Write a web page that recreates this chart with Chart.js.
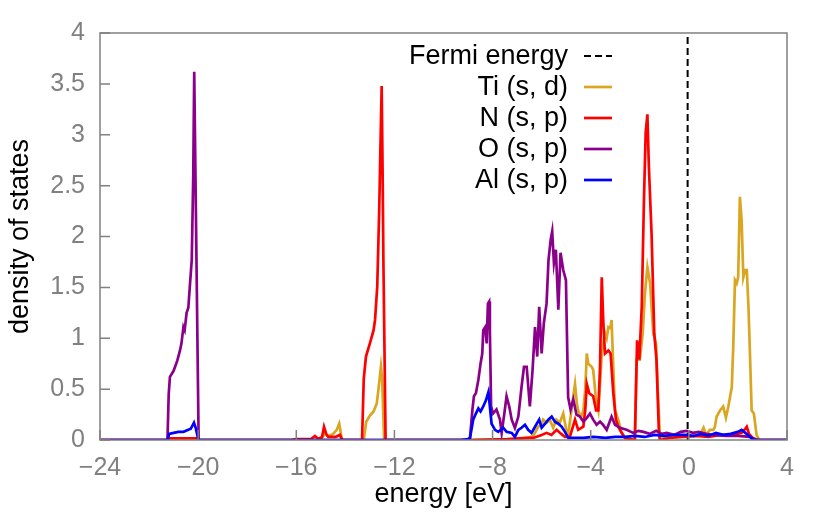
<!DOCTYPE html>
<html>
<head>
<meta charset="utf-8">
<script src="https://cdn.jsdelivr.net/npm/chart.js@4.4.1/dist/chart.umd.min.js"></script>
<style>
  html, body { margin: 0; padding: 0; background: #fff; }
  #wrap { width: 830px; height: 515px; }
</style>
</head>
<body>
<div id="wrap"><canvas id="dos" width="830" height="515"></canvas></div>
<script>
// energy grid and density of states
var fermiEnergy = -0.05;

var tiE = [-24, -15.0, -14.85, -14.7, -14.5, -14.35, -14.25, -14.15, -14.1, -13.25, -13.15, -13.0, -12.85, -12.72, -12.65, -12.55, -12.5, -12.42,
  -9.0, -7.0, -6.6, -6.34, -6.14, -6.0, -5.94, -5.79, -5.67, -5.53, -5.40, -5.26, -5.12, -5.0, -4.91, -4.78, -4.70, -4.64, -4.56, -4.51, -4.40, -4.30,
  -4.22, -4.16, -4.10, -3.96, -3.90, -3.78, -3.69, -3.62, -3.55, -3.42, -3.35, -3.28, -3.20, -3.15, -3.08, -3.01, -2.88, -2.74, -2.60, -2.20, -2.13,
  -2.0, -1.88, -1.79, -1.69, -1.58, -1.45, -1.34, -1.25, -1.18, -0.8, 0.0, 0.45, 0.6, 0.7, 0.86, 1.0, 1.06, 1.13, 1.27, 1.40, 1.51, 1.61, 1.75, 1.81,
  1.88, 1.95, 2.01, 2.08, 2.15, 2.22, 2.29, 2.36, 2.43, 2.49, 2.56, 2.65, 2.76, 2.87, 4];
var tiDos = [0, 0, 0.06, 0.04, 0.06, 0.1, 0.16, 0.02, 0, 0, 0.18, 0.24, 0.28, 0.36, 0.5, 0.72, 0.6, 0,
  0, 0.01, 0.02, 0.04, 0.13, 0.15, 0.2, 0.17, 0.2, 0.12, 0.2, 0.17, 0.26, 0.1, 0.07, 0.3, 0.45, 0.55, 0.35, 0.29, 0.22, 0.29,
  0.5, 0.85, 0.75, 0.72, 0.69, 0.39, 0.29, 0.55, 0.85, 1.05, 1.0, 1.11, 1.1, 1.18, 0.72, 0.29, 0.2, 0.07, 0.02, 0, 0.79,
  0.79, 1.05, 1.44, 1.70, 1.54, 1.05, 0.95, 0.39, 0.03, 0.03, 0.03, 0.05, 0.12, 0.05, 0.1, 0.1, 0.13, 0.23, 0.29, 0.33, 0.22, 0.33, 0.52, 0.92,
  1.57, 1.54, 1.6, 2.39, 2.16, 1.6, 1.67, 1.67, 1.31, 0.85, 0.29, 0.26, 0.05, 0, 0];

var nE = [-24, -21.25, -21.2, -20.0, -19.95, -16.2, -16.0, -15.4, -15.24, -15.1, -14.95, -14.87, -14.78, -14.7, -14.4, -14.22, -14.13,
  -13.32, -13.25, -13.16, -13.0, -12.85, -12.79, -12.70, -12.62, -12.56, -12.52, -12.48, -12.45, -12.36,
  -9.0, -7.4, -6.6, -6.34, -6.0, -5.80, -5.6, -5.39, -5.2, -5.05, -4.85, -4.64, -4.51, -4.30, -4.22, -4.16, -4.06, -3.90, -3.78, -3.69,
  -3.62, -3.55, -3.49, -3.42, -3.28, -3.19, -3.08, -2.97, -2.88, -2.74, -2.60, -2.20, -2.11, -2.02, -1.92, -1.83, -1.76, -1.69, -1.63,
  -1.52, -1.41, -1.32, -1.22, -1.18, -0.8, -0.3, 0.3, 0.8, 1.3, 1.8, 2.15, 2.3, 2.36, 2.45, 2.6, 2.7, 4];
var nDos = [0, 0, 0.015, 0.015, 0, 0, 0.01, 0.01, 0.04, 0.01, 0.03, 0.13, 0.06, 0.03, 0.03, 0.05, 0,
  0, 0.6, 0.82, 0.95, 1.08, 1.18, 1.51, 2.26, 3.0, 3.48, 2.6, 1.77, 0,
  0, 0.01, 0.02, 0.02, 0.05, 0.07, 0.05, 0.1, 0.06, 0.03, 0.03, 0.2, 0.1, 0.13, 0.3, 0.55, 0.46, 0.43, 0.29, 0.29,
  0.72, 1.60, 1.18, 0.85, 0.88, 0.85, 0.46, 0.2, 0.13, 0.07, 0.02, 0, 0.98, 0.79, 1.31, 2.36, 3.02, 3.2, 2.69,
  2.03, 1.05, 0.79, 0.07, 0, 0.02, 0.03, 0.04, 0.03, 0.05, 0.05, 0.07, 0.11, 0.13, 0.06, 0.02, 0, 0];

var oE = [-24, -21.25, -21.2, -21.15, -21.0, -20.94, -20.85, -20.74, -20.68, -20.6, -20.55, -20.47, -20.4, -20.33, -20.26, -20.2, -20.16,
  -19.98, -9.0, -8.92, -8.82, -8.76, -8.68, -8.58, -8.49, -8.42, -8.38, -8.30, -8.24, -8.19, -8.14, -8.11, -8.06, -7.98,
  -7.84, -7.70, -7.63, -7.52, -7.43, -7.32, -7.22, -7.09, -6.95, -6.82, -6.72, -6.61, -6.48, -6.37, -6.27, -6.18, -6.10, -6.0, -5.91,
  -5.80, -5.72, -5.63, -5.57, -5.50, -5.42, -5.32, -5.23, -5.12, -5.01, -4.92, -4.82, -4.71, -4.58, -4.44, -4.30, -4.15, -4.03, -3.90,
  -3.76, -3.62, -3.50, -3.35, -3.15, -3.01, -2.81, -2.54, -2.27, -2.05, -1.85, -1.6, -1.33, -1.1, -0.9, -0.6, -0.33, -0.1, 0.17, 0.4,
  0.7, 1.0, 1.5, 2.0, 2.5, 2.8, 4];
var oDos = [0, 0, 0.45, 0.62, 0.68, 0.72, 0.78, 0.88, 0.95, 1.11, 1.08, 1.25, 1.3, 1.54, 1.77, 2.6, 3.62,
  0, 0, 0.02, 0.3, 0.43, 0.46, 0.59, 0.75, 0.85, 1.08, 1.11, 0.95, 1.34, 1.36, 1.08, 0.33, 0.26,
  0.30, 0.2, 0.07, 0.26, 0.43, 0.33, 0.2, 0.12, 0.23, 0.52, 0.72, 0.72, 0.33, 0.69, 1.11, 0.82, 1.31, 0.85, 1.15,
  1.34, 1.77, 1.97, 2.05, 1.74, 1.87, 1.28, 1.84, 1.67, 1.57, 0.42, 0.3, 0.4, 0.25, 0.23, 0.18, 0.22, 0.26, 0.2,
  0.15, 0.18, 0.15, 0.1, 0.23, 0.15, 0.12, 0.1, 0.07, 0.09, 0.08, 0.06, 0.09, 0.06, 0.07, 0.05, 0.08, 0.09, 0.07, 0.08,
  0.06, 0.05, 0.04, 0.04, 0.03, 0, 0];

var alE = [-24, -21.25, -21.18, -21.0, -20.8, -20.6, -20.4, -20.3, -20.17, -20.1, -19.99, -9.3, -9.0, -8.92, -8.79, -8.68, -8.58, -8.49,
  -8.38, -8.27, -8.17, -8.11, -8.04, -7.90, -7.77, -7.56, -7.43, -7.22, -7.09, -6.95, -6.82, -6.68, -6.55, -6.41, -6.27, -6.10, -6.0,
  -5.86, -5.73, -5.59, -5.46, -5.32, -5.18, -5.05, -4.91, -4.7, -4.3, -3.9, -3.4, -3.0, -2.6, -2.2, -1.8, -1.4, -1.0, -0.6, -0.2, 0.2,
  0.5, 0.8, 1.1, 1.4, 1.7, 2.0, 2.15, 2.3, 2.5, 2.62, 4];
var alDos = [0, 0, 0.06, 0.07, 0.08, 0.08, 0.1, 0.11, 0.17, 0.12, 0, 0, 0.01, 0.02, 0.2, 0.26, 0.31, 0.28,
  0.33, 0.39, 0.47, 0.33, 0.16, 0.1, 0.08, 0.12, 0.08, 0.07, 0.03, 0.1, 0.12, 0.15, 0.1, 0.07, 0.13, 0.2, 0.12,
  0.16, 0.2, 0.23, 0.18, 0.16, 0.13, 0.08, 0.02, 0.02, 0.02, 0.03, 0.02, 0.03, 0.03, 0.04, 0.03, 0.05, 0.04, 0.05, 0.05, 0.04,
  0.06, 0.04, 0.07, 0.05, 0.06, 0.08, 0.1, 0.07, 0.03, 0, 0];

var labels = ["Fermi energy", "Ti (s, d)", "N (s, p)", "O (s, p)", "Al (s, p)"];
var colors = ["#000000", "#daa520", "#ff0000", "#8b008b", "#0000ff"];

var FONT = "'Liberation Sans', Arial, sans-serif";
var GREY = "#808080";

function pts(xs, ys) {
  var out = [];
  for (var i = 0; i < xs.length; i++) out.push({x: xs[i], y: ys[i]});
  return out;
}

function line(i, data, order) {
  return {
    label: labels[i],
    data: data,
    borderColor: colors[i],
    borderWidth: 2.7,
    pointRadius: 0,
    tension: 0,
    fill: false,
    order: order
  };
}

var fermiSet = line(0, [{x: fermiEnergy, y: 0}, {x: fermiEnergy, y: 4}], 4);
fermiSet.borderDash = [7, 4];
fermiSet.borderWidth = 2;

// gnuplot look: box, inward ticks, key with sample on the right
var framePlugin = {
  id: "frame",
  afterDatasetsDraw: function(chart) {
    var ctx = chart.ctx, a = chart.chartArea;
    var xs = chart.scales.x, ys = chart.scales.y;
    ctx.save();
    ctx.strokeStyle = GREY;
    ctx.lineWidth = 1.5;
    ctx.beginPath();
    xs.ticks.forEach(function(t) {
      var px = xs.getPixelForValue(t.value);
      ctx.moveTo(px, a.bottom);
      ctx.lineTo(px, a.bottom - 10);
    });
    ys.ticks.forEach(function(t) {
      var py = ys.getPixelForValue(t.value);
      ctx.moveTo(a.left, py);
      ctx.lineTo(a.left + 10, py);
    });
    ctx.stroke();
    ctx.strokeRect(a.left, a.top, a.right - a.left, a.bottom - a.top);

    // key
    ctx.font = "27px " + FONT;
    ctx.textAlign = "right";
    ctx.textBaseline = "middle";
    chart.data.datasets.forEach(function(ds, i) {
      var y = 56 + i * 31;
      ctx.fillStyle = "#000";
      ctx.fillText(ds.label, 568, y + 1);
      ctx.strokeStyle = ds.borderColor;
      ctx.lineWidth = ds.borderWidth;
      ctx.setLineDash(ds.borderDash || []);
      ctx.beginPath();
      ctx.moveTo(584, y);
      ctx.lineTo(612, y);
      ctx.stroke();
    });
    ctx.restore();
  }
};

new Chart(document.getElementById("dos"), {
  type: "line",
  data: {
    datasets: [
      fermiSet,
      line(1, pts(tiE, tiDos), 3),
      line(2, pts(nE, nDos), 2),
      line(3, pts(oE, oDos), 1),
      line(4, pts(alE, alDos), 0)
    ]
  },
  options: {
    responsive: false,
    animation: false,
    devicePixelRatio: 1,
    layout: { padding: { left: 0, right: 43, top: 33, bottom: 0 } },
    plugins: { legend: { display: false }, tooltip: { enabled: false } },
    scales: {
      x: {
        type: "linear",
        min: -24, max: 4,
        grid: { display: false, drawTicks: false },
        border: { display: false },
        ticks: {
          stepSize: 4, padding: 13, color: GREY,
          font: { family: FONT, size: 25 },
          callback: function(v) { return String(v).replace("-", "\u2212"); }
        },
        title: { display: true, text: "energy [eV]", color: "#000",
          font: { family: FONT, size: 27 }, padding: { top: 0, bottom: 4 } },
        afterFit: function(s) { s.height = 75; }
      },
      y: {
        type: "linear",
        min: 0, max: 4,
        grid: { display: false, drawTicks: false },
        border: { display: false },
        ticks: {
          stepSize: 0.5, padding: 15, color: GREY,
          font: { family: FONT, size: 25 },
          callback: function(v) { return String(v); }
        },
        title: { display: true, text: "density of states", color: "#000",
          font: { family: FONT, size: 27 }, padding: { top: 4, bottom: 0 } },
        afterFit: function(s) { s.width = 100; }
      }
    }
  },
  plugins: [framePlugin]
});
</script>
</body>
</html>
